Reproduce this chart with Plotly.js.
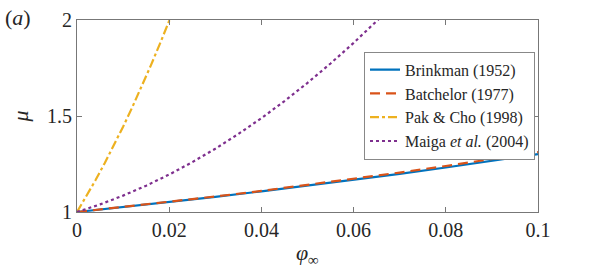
<!DOCTYPE html>
<html>
<head>
<meta charset="utf-8">
<script src="https://cdn.plot.ly/plotly-3.0.1.min.js"></script>
<style>html,body{margin:0;padding:0;background:#fff;}#chart{width:595px;height:268px;}</style>
</head>
<body>
<div id="chart"></div>
<script>
// Volume fraction samples and viscosity values
const phiWide = [0, 0.01, 0.02, 0.03, 0.04, 0.05, 0.06, 0.07, 0.08, 0.09, 0.10];
const brinkman = [1, 1.0254, 1.0518, 1.0791, 1.1074, 1.1368, 1.1673, 1.1989, 1.2318, 1.2659, 1.3014];
const batchelor = [1, 1.0256, 1.0525, 1.0806, 1.1099, 1.1405, 1.1723, 1.2054, 1.2397, 1.2752, 1.3120];
const phiPak = [0, 0.002, 0.004, 0.006, 0.008, 0.010, 0.012, 0.014, 0.016, 0.018, 0.020, 0.0201];
const pakCho = [1, 1.0804, 1.1650, 1.2539, 1.3471, 1.4445, 1.5462, 1.6522, 1.7624, 1.8770, 1.9958, 2.0018];
const phiMaiga = [0, 0.005, 0.010, 0.015, 0.020, 0.025, 0.030, 0.035, 0.040, 0.045, 0.050, 0.055, 0.060, 0.065, 0.0655];
const maiga = [1, 1.0396, 1.0853, 1.1372, 1.1952, 1.2594, 1.3297, 1.4062, 1.4888, 1.5776, 1.6725, 1.7736, 1.8808, 1.9942, 2.0059];
const xTicks = [0, 0.02, 0.04, 0.06, 0.08, 0.1];
const xTickText = ['0', '0.02', '0.04', '0.06', '0.08', '0.1'];
const yTicks = [1, 1.5, 2];
const yTickText = ['1', '1.5', '2'];
const names = ['Brinkman (1952)', 'Batchelor (1977)', 'Pak &amp; Cho (1998)', 'Maiga <i>et al.</i> (2004)'];

const serif = 'Liberation Serif';
const traces = [
  {x: phiWide, y: brinkman, name: names[0], mode: 'lines', line: {color: '#0072BD', width: 2.2}},
  {x: phiWide, y: batchelor, name: names[1], mode: 'lines', line: {color: '#D95319', width: 2.2, dash: '10px,6px'}},
  {x: phiPak, y: pakCho, name: names[2], mode: 'lines', line: {color: '#EDB120', width: 2.2, dash: '9px,3px,3px,3px'}},
  {x: phiMaiga, y: maiga, name: names[3], mode: 'lines', line: {color: '#7E2F8E', width: 2.2, dash: 'dot'}}
];
const axisCommon = {
  showgrid: false, zeroline: false, showline: true, linecolor: '#777', linewidth: 1,
  mirror: 'allticks', ticks: 'inside', ticklen: 5, tickcolor: '#777',
  tickfont: {family: serif, size: 20, color: '#262626'}
};
const layout = {
  width: 595, height: 268,
  margin: {l: 77, r: 57, t: 20, b: 56},
  paper_bgcolor: '#fff', plot_bgcolor: '#fff',
  font: {family: serif},
  showlegend: true,
  xaxis: Object.assign({}, axisCommon, {
    range: [0, 0.1], tickvals: xTicks, ticktext: xTickText,
    title: {text: '<i>φ</i><sub>∞</sub>', font: {family: serif, size: 22, color: '#262626'}, standoff: 4}
  }),
  yaxis: Object.assign({}, axisCommon, {
    range: [1, 2], tickvals: yTicks, ticktext: yTickText,
    title: {text: '<i>μ</i>', font: {family: serif, size: 22, color: '#262626'}, standoff: 12}
  }),
  legend: {
    x: 0.9935, y: 0.835, xanchor: 'right', yanchor: 'top',
    bgcolor: '#fff', bordercolor: '#888', borderwidth: 1,
    font: {family: serif, size: 16, color: '#262626'},
    tracegroupgap: 0, itemwidth: 30
  },
  annotations: [
    {text: '(<i>a</i>)', xref: 'paper', yref: 'paper', x: -0.16, y: 1.013, xanchor: 'left', yanchor: 'middle',
     showarrow: false, font: {family: serif, size: 22, color: '#262626'}}
  ]
};
Plotly.newPlot('chart', traces, layout, {displayModeBar: false, staticPlot: true});
</script>
</body>
</html>
